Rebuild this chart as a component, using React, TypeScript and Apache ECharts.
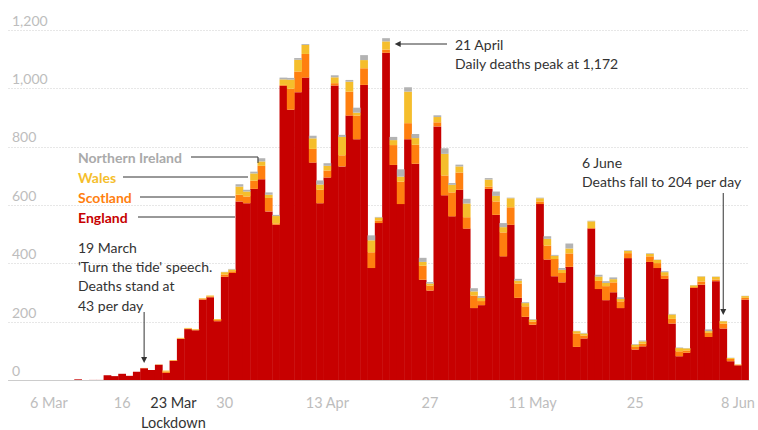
import React, { useEffect, useRef } from "react";
import * as echarts from "echarts";

// Daily deaths by nation, 1 March – 9 June (one value per day)
const ENGLAND = [
  0, 0, 0, 0, 0, 1, 1, 1, 1, 4, 1, 2, 2, 18, 15, 23, 16, 30, 42, 36,
  54, 26, 67, 142, 176, 172, 277, 285, 203, 355, 368, 613, 607, 656, 689, 579, 533, 1009, 927, 987,
  1037, 746, 607, 695, 1010, 733, 907, 826, 1012, 385, 539, 1122, 738, 604, 826, 742, 345, 308, 870, 634,
  562, 653, 520, 248, 258, 656, 567, 425, 533, 283, 218, 191, 604, 414, 357, 336, 389, 115, 144, 520,
  313, 275, 302, 248, 419, 106, 117, 406, 385, 348, 195, 83, 95, 317, 328, 149, 340, 178, 66, 52,
  277,
];
const SCOTLAND = [
  0, 0, 0, 0, 0, 0, 0, 0, 0, 0, 0, 0, 0, 0, 0, 0, 0, 0, 1, 0,
  0, 5, 2, 2, 2, 2, 3, 3, 4, 8, 6, 23, 23, 28, 46, 46, 5, 3, 72, 71,
  81, 47, 46, 24, 8, 38, 82, 81, 57, 54, 9, 11, 68, 77, 55, 65, 48, 17, 14, 68,
  82, 59, 39, 43, 14, 8, 46, 82, 60, 49, 36, 11, 9, 48, 59, 32, 46, 46, 10, 2,
  28, 48, 34, 23, 17, 9, 9, 19, 17, 12, 16, 17, 8, 3, 11, 14, 6, 17, 8, 2,
  6,
];
const WALES = [
  0, 0, 0, 0, 0, 0, 0, 0, 0, 0, 0, 0, 0, 0, 0, 0, 0, 0, 0, 0,
  1, 3, 1, 2, 2, 2, 2, 3, 3, 8, 6, 28, 17, 25, 15, 11, 25, 19, 31, 40,
  31, 36, 18, 16, 20, 63, 34, 10, 28, 41, 10, 28, 17, 17, 108, 23, 13, 7, 18, 74,
  26, 21, 47, 14, 11, 24, 19, 18, 31, 10, 11, 6, 11, 23, 11, 11, 17, 8, 7, 23,
  15, 11, 11, 8, 8, 8, 8, 9, 11, 11, 15, 11, 7, 6, 17, 6, 9, 8, 3, 1,
  6,
];
const NORTHERN_IRELAND = [
  0, 0, 0, 0, 0, 0, 0, 0, 0, 0, 0, 0, 0, 0, 0, 0, 0, 0, 0, 0,
  0, 0, 0, 0, 0, 0, 0, 0, 0, 1, 2, 8, 6, 6, 11, 8, 4, 6, 6, 6,
  3, 9, 14, 9, 7, 7, 6, 17, 17, 17, 2, 11, 11, 25, 15, 14, 14, 5, 6, 19,
  6, 6, 16, 11, 6, 5, 15, 14, 2, 6, 3, 2, 2, 9, 3, 6, 17, 1, 2, 2,
  6, 6, 6, 6, 2, 2, 3, 2, 1, 3, 2, 2, 1, 1, 1, 6, 1, 1, 1, 0,
  1,
];

const MONTHS = ["Jan", "Feb", "Mar", "Apr", "May", "Jun"];
const START_DAY = 1; // 1 March 2020
const START_MONTH = 2;
const CATEGORIES: string[] = ENGLAND.map((_, i) => {
  const d = new Date(2020, START_MONTH, START_DAY + i);
  return `${d.getDate()} ${MONTHS[d.getMonth()]}`;
});

const TICK_LABELS: Record<string, string> = {
  "6 Mar": "6 Mar",
  "16 Mar": "16",
  "23 Mar": "23 Mar",
  "30 Mar": "30",
  "13 Apr": "13 Apr",
  "27 Apr": "27",
  "11 May": "11 May",
  "25 May": "25",
  "8 Jun": "8 Jun",
};
const LOCKDOWN_DAY = "23 Mar";

const COLORS = {
  england: "#c70000",
  scotland: "#ff7f0f",
  wales: "#f5be2c",
  ni: "#b3b3b3",
};
const FONT = "Lato";

export default function App() {
  const ref = useRef<HTMLDivElement>(null);

  useEffect(() => {
    document.body.style.margin = "0";
    const chart = echarts.init(ref.current!, null, { renderer: "svg" });

    const barSeries = (name: string, data: number[], color: string) => ({
      name,
      type: "bar",
      stack: "uk",
      data: data.map((v) => (v === 0 ? null : v)),
      barWidth: "106%",
      barGap: "-100%",
      itemStyle: { color, borderWidth: 0 },
      emphasis: { disabled: true },
    });

    chart.setOption({
      animation: false,
      textStyle: { fontFamily: FONT },
      grid: { left: 8.5, right: 5.3, top: 30, bottom: 49 },
      xAxis: [
        {
          type: "category",
          data: CATEGORIES,
          axisLine: { lineStyle: { color: "#cccccc", width: 1 } },
          axisTick: {
            alignWithLabel: true,
            length: 10,
            interval: (_i: number, v: string) => v in TICK_LABELS && v !== LOCKDOWN_DAY,
            lineStyle: { color: "#cccccc" },
          },
          axisLabel: {
            interval: (_i: number, v: string) => v in TICK_LABELS,
            margin: 12,
            formatter: (v: string) =>
              v === LOCKDOWN_DAY ? `{d|${TICK_LABELS[v]}}\n{d|Lockdown}` : `{g|${TICK_LABELS[v]}}`,
            rich: {
              g: { color: "#bdbdbd", fontSize: 14.5, lineHeight: 20, fontFamily: FONT },
              d: { color: "#333333", fontSize: 14.5, lineHeight: 20, fontFamily: FONT },
            },
          },
          z: 5,
        },
        {
          type: "category",
          data: CATEGORIES,
          position: "bottom",
          axisLine: { show: false },
          axisTick: {
            alignWithLabel: true,
            length: 10,
            interval: (_i: number, v: string) => v === LOCKDOWN_DAY,
            lineStyle: { color: "#333333" },
          },
          axisLabel: { show: false },
        },
      ],
      yAxis: {
        type: "value",
        min: 0,
        max: 1200,
        interval: 200,
        axisLine: { show: false },
        axisTick: { show: false },
        splitLine: { lineStyle: { color: "#cfcfcf", type: [1, 2] } },
        axisLabel: {
          inside: true,
          margin: 3.5,
          verticalAlign: "bottom",
          color: "#bdbdbd",
          fontSize: 14,
          lineHeight: 14,
          padding: [0, 0, 3, 0],
          formatter: (v: number) => v.toLocaleString("en-US"),
        },
        z: 0,
      },
      series: [
        barSeries("England", ENGLAND, COLORS.england),
        barSeries("Scotland", SCOTLAND, COLORS.scotland),
        barSeries("Wales", WALES, COLORS.wales),
        barSeries("Northern Ireland", NORTHERN_IRELAND, COLORS.ni),
      ],
    });

    const toPx = (cat: string, v: number) =>
      chart.convertToPixel({ xAxisIndex: 0, yAxisIndex: 0 }, [cat, v]) as number[];
    const total = (cat: string) => {
      const i = CATEGORIES.indexOf(cat);
      return ENGLAND[i] + SCOTLAND[i] + WALES[i] + NORTHERN_IRELAND[i];
    };
    const barHalf = (toPx("2 Mar", 0)[0] - toPx("1 Mar", 0)[0]) / 2;

    const ink = "#333333";
    const txt = (x: number, y: number, text: string, fill = ink, bold = false) => ({
      type: "text",
      x,
      y,
      style: {
        text,
        fill,
        font: `${bold ? "bold " : ""}14px ${FONT}`,
        textAlign: "left",
        textVerticalAlign: "middle",
      },
      z: 10,
    });
    const line = (pts: number[][]) => ({
      type: "polyline",
      shape: { points: pts },
      style: { stroke: ink, lineWidth: 1, fill: null },
      z: 10,
    });
    const head = (pts: number[][]) => ({
      type: "polygon",
      shape: { points: pts },
      style: { fill: ink },
      z: 10,
    });

    // 19 March arrow (down)
    const m19 = toPx("19 Mar", total("19 Mar"));
    const m19tip = m19[1] - 5;
    // 21 April arrow (left)
    const a21 = toPx("21 Apr", total("21 Apr"));
    const a21tip = a21[0] + barHalf + 5;
    // 6 June arrow (down)
    const j6 = toPx("6 Jun", total("6 Jun"));
    const j6tip = j6[1] - 6;

    chart.setOption({
      graphic: [
        txt(78, 157, "Northern Ireland", "#aaaaaa", true),
        txt(78, 177, "Wales", COLORS.wales, true),
        txt(78, 197, "Scotland", COLORS.scotland, true),
        txt(78, 217, "England", COLORS.england, true),
        line([[191, 157], [258, 157], [258, 163]]),
        line([[123, 177], [248, 177]]),
        line([[140, 197], [235, 197]]),
        line([[138, 217], [235, 217]]),

        txt(78, 247, "19 March"),
        txt(78, 266, "'Turn the tide' speech."),
        txt(78, 285, "Deaths stand at"),
        txt(78, 305, "43 per day"),
        line([[m19[0], 312], [m19[0], m19tip - 4]]),
        head([[m19[0] - 3, m19tip - 6], [m19[0] + 3, m19tip - 6], [m19[0], m19tip]]),

        txt(455, 44, "21 April"),
        txt(455, 63, "Daily deaths peak at 1,172"),
        line([[447, 44], [a21tip + 4, 44]]),
        head([[a21tip + 6, 41], [a21tip + 6, 47], [a21tip, 44]]),

        txt(582, 162, "6 June"),
        txt(582, 181.5, "Deaths fall to 204 per day"),
        line([[j6[0], 193], [j6[0], j6tip - 4]]),
        head([[j6[0] - 3, j6tip - 6], [j6[0] + 3, j6tip - 6], [j6[0], j6tip]]),
      ],
    });

    return () => chart.dispose();
  }, []);

  return <div ref={ref} style={{ width: 758, height: 430 }} />;
}
